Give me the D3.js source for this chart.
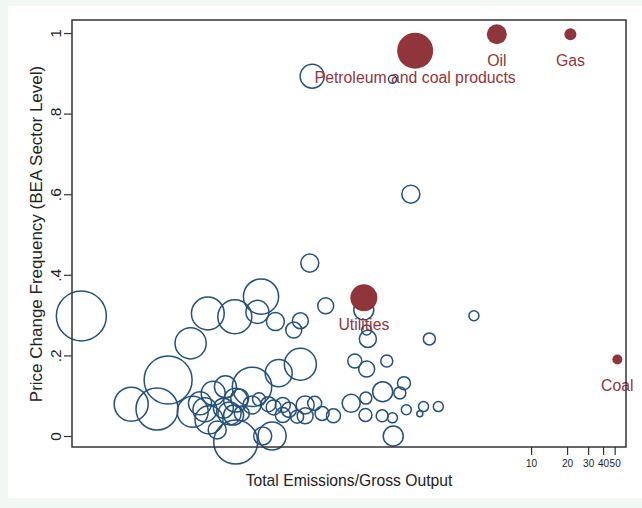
<!DOCTYPE html>
<html>
<head>
<meta charset="utf-8">
<script src="https://cdn.jsdelivr.net/npm/d3@7"></script>
<style>
  html, body { margin: 0; padding: 0; background: #f3f7f3; }
  #wrap { position: absolute; left: 8px; top: 6px; width: 634px; height: 492px; background: #fff; }
  svg { position: absolute; left: 0; top: 0; }
  text { font-family: "Liberation Sans", Arial, sans-serif; }
</style>
</head>
<body>
<div id="wrap"></div>
<svg id="chart" width="642" height="508"></svg>
<script>
// Sectors (hollow circles): emissions/output, price change frequency, output weight
const sectorX = [0.00173, 0.00452, 0.00743, 0.00920, 0.01419, 0.01977, 0.03324, 0.05506, 0.05137, 0.07264,
  0.1175, 0.1035, 0.1913, 0.1409, 0.1475, 0.6922, 0.9865, 3.324, 1.409, 0.3984,
  0.4312, 0.4213, 0.335, 0.4213, 0.6203, 0.1175, 0.07741, 0.0463, 0.5734, 0.8639,
  0.7984, 0.4148, 0.3126, 0.4116, 0.5679, 0.6922, 0.9046, 1.173, 1.260, 1.675,
  0.7031, 0.2223, 0.1785, 0.1548, 0.1289, 0.1103, 0.09421, 0.08377, 0.07031, 0.06349,
  0.05299, 0.08377, 0.06818, 0.05689, 0.03383, 0.02369, 0.01478, 0.02023, 0.02193, 0.02774,
  0.03383, 0.03653, 0.03002, 0.03249, 0.02669, 0.01869, 0.01701, 0.03804, 0.0463, 0.1289];
const sectorY = [0.298, 0.079, 0.067, 0.139, 0.230, 0.304, 0.296, 0.346, 0.308, 0.284,
  0.286, 0.263, 0.323, 0.429, 0.893, 0.885, 0.600, 0.2985, 0.241, 0.313,
  0.241, 0.263, 0.186, 0.166, 0.186, 0.178, 0.156, 0.122, 0.110, 0.131,
  0.107, 0.094, 0.081, 0.052, 0.050, 0.045, 0.065, 0.055, 0.073, 0.073,
  0.000, 0.050, 0.056, 0.081, 0.050, 0.048, 0.065, 0.077, 0.071, 0.079,
  0.091, 0.052, 0.000, 0.000, -0.015, 0.015, 0.060, 0.040, 0.106, 0.122,
  0.089, 0.094, 0.056, 0.052, 0.069, 0.065, 0.081, 0.056, 0.077, 0.077];
const sectorW = [100, 46.2, 70.6, 92.2, 38.9, 43, 46.2, 49.6, 21.2, 13,
  10.2, 10.2, 10.2, 13, 23, 2.56, 13, 4, 5.76, 16,
  11.6, 4, 7.84, 10.2, 5.76, 41, 29.2, 62.1, 16, 6.76,
  5.76, 5.76, 13, 6.76, 5.76, 4, 4, 1.44, 4, 4,
  16, 7.84, 7.84, 7.84, 10.2, 6.76, 9, 9, 9, 9,
  6.76, 9, 31.4, 13, 77.4, 13, 38.4, 31.4, 23, 19.4,
  23, 13, 21.2, 16, 16, 23, 21.2, 9, 13, 13];

// Energy-related sectors (filled, labelled)
const energyNames = ["Petroleum and coal products", "Oil", "Gas", "Coal", "Utilities"];
const energyX = [1.072, 5.167, 21.31, 52.68, 0.3992];
const energyY = [0.956, 0.997, 0.997, 0.190, 0.343];
const energyW = [51.8, 16, 5.76, 4, 29.2];

const xTicks = [10, 20, 30, 40, 50];
const yTicks = [0, 0.2, 0.4, 0.6, 0.8, 1];

const navy = "#24507a", maroon = "#90353b";

const svg = d3.select("#chart");
const plotL = 72, plotR = 626, plotT = 20, plotB = 447;

const x = d3.scaleLog().domain([0.001445, 62.2]).range([plotL, plotR]);
const y = d3.scaleLinear().domain([-0.0273, 1.0323]).range([plotB, plotT]);
const r = d3.scaleSqrt().domain([0, 100]).range([0, 25]);

const sectors = sectorX.map((v, i) => ({ x: v, y: sectorY[i], w: sectorW[i] }));
const energy = energyNames.map((n, i) => ({ name: n, x: energyX[i], y: energyY[i], w: energyW[i] }));

// y axis
const yAxis = svg.append("g")
  .attr("transform", `translate(${plotL},0)`)
  .call(d3.axisLeft(y).tickValues(yTicks).tickSize(8)
    .tickFormat(d => d === 0 ? "0" : d === 1 ? "1" : d3.format(".1f")(d).replace(/^0/, "")));
yAxis.select(".domain").remove();
yAxis.selectAll(".tick line").attr("stroke", "#333").attr("stroke-width", 1.2);
yAxis.selectAll(".tick text")
  .attr("font-size", 15.5)
  .attr("fill", "#222")
  .attr("text-anchor", "middle")
  .attr("x", 0).attr("y", 0).attr("dy", null)
  .attr("transform", "translate(-17,0) rotate(-90)")
  .attr("dominant-baseline", "central");

// x axis
const xAxis = svg.append("g")
  .attr("transform", `translate(0,${plotB})`)
  .call(d3.axisBottom(x).tickValues(xTicks).tickSize(8).tickPadding(5)
    .tickFormat(d3.format("d")));
xAxis.select(".domain").remove();
xAxis.selectAll(".tick line").attr("stroke", "#333").attr("stroke-width", 1.2);
xAxis.selectAll(".tick text").attr("font-size", 10).attr("fill", "#222");

// circles
svg.append("g").selectAll("circle")
  .data(sectors)
  .join("circle")
  .attr("cx", d => x(d.x))
  .attr("cy", d => y(d.y))
  .attr("r", d => r(d.w))
  .attr("fill", "none")
  .attr("stroke", navy)
  .attr("stroke-width", 1.5);

svg.append("g").selectAll("circle")
  .data(energy)
  .join("circle")
  .attr("cx", d => x(d.x))
  .attr("cy", d => y(d.y))
  .attr("r", d => r(d.w))
  .attr("fill", maroon);

svg.append("g").selectAll("text")
  .data(energy)
  .join("text")
  .attr("x", d => x(d.x))
  .attr("y", d => y(d.y) + 32)
  .attr("text-anchor", "middle")
  .attr("font-size", 15.8)
  .attr("fill", maroon)
  .text(d => d.name);

// frame
svg.append("rect")
  .attr("x", plotL).attr("y", plotT)
  .attr("width", plotR - plotL).attr("height", plotB - plotT)
  .attr("fill", "none")
  .attr("stroke", "#333")
  .attr("stroke-width", 1.5);

// axis titles
svg.append("text")
  .attr("x", 349).attr("y", 486)
  .attr("text-anchor", "middle")
  .attr("font-size", 15.7)
  .attr("fill", "#222")
  .text("Total Emissions/Gross Output");

svg.append("text")
  .attr("transform", `translate(42,234) rotate(-90)`)
  .attr("text-anchor", "middle")
  .attr("font-size", 17)
  .attr("fill", "#222")
  .text("Price Change Frequency (BEA Sector Level)");
</script>
</body>
</html>
